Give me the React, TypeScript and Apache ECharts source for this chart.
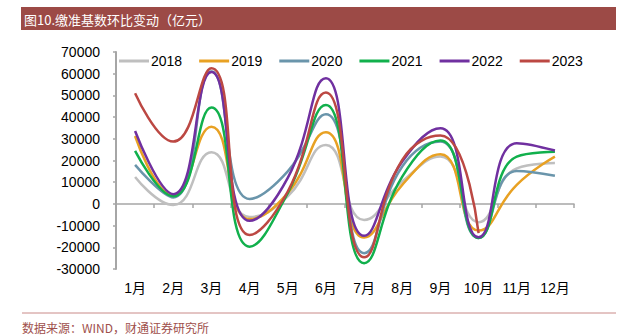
import React, { useEffect, useRef } from "react";
import * as echarts from "echarts";

const months = ["1月", "2月", "3月", "4月", "5月", "6月", "7月", "8月", "9月", "10月", "11月", "12月"];
const yearNames = ["2018", "2019", "2020", "2021", "2022", "2023"];
const d2018 = [12400, -500, 23800, -6000, 3500, 27200, -7400, 10300, 21800, -8400, 16400, 18800];
const d2019 = [31300, 4000, 35600, -7000, 5000, 33000, -15500, 8800, 22900, -12300, 8800, 21800];
const d2020 = [18000, 3000, 61000, 2300, 15000, 41300, -22700, 17200, 28700, -15700, 15200, 13000];
const d2021 = [24400, 3500, 44400, -19700, 5000, 45600, -27300, 12600, 29200, -15700, 21800, 24000];
const d2022 = [33600, 4500, 60800, -7800, 12000, 57900, -14700, 19500, 34900, -15400, 28000, 24600];
const d2023 = [51000, 28700, 62500, -14300, 5700, 51300, -24600, 20300, 31500, -13500];
const seriesData = [d2018, d2019, d2020, d2021, d2022, d2023];
const colors = ["#BFBFBF", "#E8A123", "#6A95AB", "#11B04C", "#7030A0", "#BC4843"];

const titleText = "图10.缴准基数环比变动（亿元）";
const sourceText = "数据来源：WIND，财通证券研究所";

const FONT = "'Liberation Sans', Arial, 'Noto Sans CJK SC', sans-serif";

export default function App() {
  const ref = useRef<HTMLDivElement>(null);
  useEffect(() => {
    if (!ref.current) return;
    const chart = echarts.init(ref.current, null, { renderer: "svg" });
    chart.setOption({
      animation: false,
      backgroundColor: "#ffffff",
      color: colors,
      legend: {
        top: 49,
        left: 114,
        icon: "rect",
        itemWidth: 30,
        itemHeight: 3,
        itemGap: 17,
        data: yearNames,
        textStyle: { fontSize: 14, color: "#000", fontFamily: FONT, padding: [0, 0, 0, -3] },
      },
      grid: { left: 116, right: 62, top: 52, bottom: 67, containLabel: false },
      xAxis: [
        {
          type: "category",
          data: months,
          boundaryGap: true,
          position: "bottom",
          axisLine: { show: false, onZero: false },
          axisTick: { show: false },
          axisLabel: { interval: 0, margin: 12, fontSize: 14, color: "#000", fontFamily: FONT },
        },
        {
          type: "category",
          data: months,
          boundaryGap: true,
          position: "bottom",
          axisLine: { show: true, onZero: true, lineStyle: { color: "#A6A6A6", width: 1.5 } },
          axisTick: { show: true, length: 4, interval: 0, lineStyle: { color: "#A6A6A6", width: 1.5 } },
          axisLabel: { show: false },
        },
      ],
      yAxis: {
        type: "value",
        min: -30000,
        max: 70000,
        interval: 10000,
        axisLine: { show: true, lineStyle: { color: "#A6A6A6", width: 2 } },
        axisTick: { show: true, length: 3, lineStyle: { color: "#A6A6A6", width: 1.5 } },
        splitLine: { show: false },
        axisLabel: {
          margin: 16,
          fontSize: 14,
          color: "#000",
          fontFamily: FONT,
          formatter: (v: number) => String(v),
        },
      },
      series: yearNames.map((name, i) => ({
        name,
        type: "line",
        data: seriesData[i],
        smooth: 0.5,
        symbol: "none",
        showSymbol: false,
        xAxisIndex: 0,
        lineStyle: { width: 2.5, color: colors[i] },
        itemStyle: { color: colors[i] },
      })),
      graphic: [
        {
          type: "rect",
          shape: { x: 21, y: 7, width: 595, height: 23 },
          style: { fill: "#9C4A46" },
          silent: true,
        },
        {
          type: "text",
          x: 24,
          y: 19,
          style: {
            text: titleText,
            fill: "#ffffff",
            fontSize: 13,
            fontFamily: "'Noto Sans CJK SC', sans-serif",
            verticalAlign: "middle",
          },
        },
        {
          type: "line",
          shape: { x1: 22, y1: 313, x2: 616, y2: 313 },
          style: { stroke: "#C98A88", lineWidth: 1 },
        },
        {
          type: "text",
          x: 22,
          y: 327,
          style: {
            text: sourceText,
            fill: "#A0504C",
            fontSize: 12,
            fontFamily: "'Noto Sans CJK SC', sans-serif",
            verticalAlign: "middle",
          },
        },
      ],
    });
    return () => chart.dispose();
  }, []);
  return (
    <div
      ref={ref}
      style={{ position: "fixed", left: 0, top: 0, width: 636, height: 336, background: "#fff" }}
    />
  );
}
